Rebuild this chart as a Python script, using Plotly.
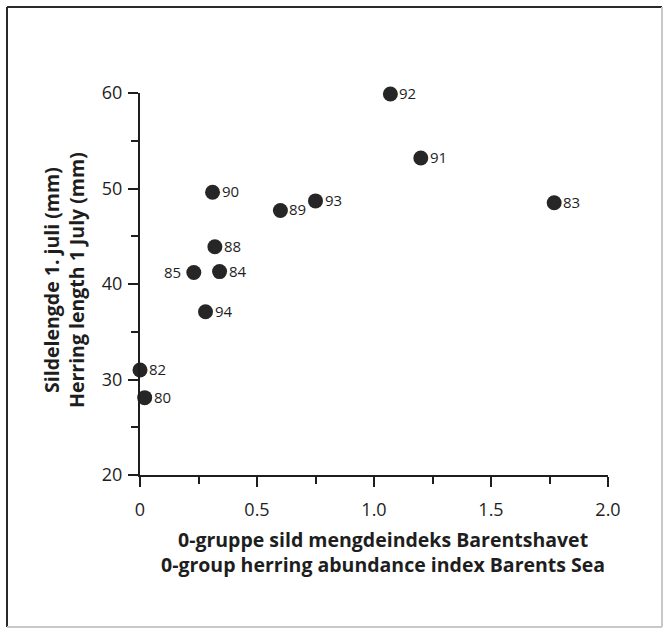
import plotly.graph_objects as go

years = ["92", "91", "83", "93", "89", "90", "88", "85", "84", "94", "82", "80"]
abundance = [1.07, 1.20, 1.77, 0.75, 0.60, 0.31, 0.32, 0.23, 0.34, 0.28, 0.00, 0.02]
length_mm = [59.9, 53.2, 48.5, 48.7, 47.7, 49.6, 43.9, 41.2, 41.3, 37.1, 31.0, 28.1]
label_left = [False] * 7 + [True] + [False] * 4

x_title = ["0-gruppe sild mengdeindeks Barentshavet",
           "0-group herring abundance index Barents Sea"]
y_title = ["Sildelengde 1. juli (mm)", "Herring length 1 July (mm)"]

FONT = "Open Sans"
INK = "#1e1e1e"

# plot area in pixels
W, H = 665, 628
L, R, T, B = 140, 57, 93, 153
PW, PH = W - L - R, H - T - B


def px(x):
    return (x - L) / PW


def py(y):
    return (H - B - y) / PH


fig = go.Figure()
fig.add_trace(go.Scatter(
    x=abundance, y=length_mm, mode="markers",
    marker=dict(size=15, color="#262626", line=dict(width=0)),
    cliponaxis=False, showlegend=False, hoverinfo="skip",
))

for xv, yv, t, left in zip(abundance, length_mm, years, label_left):
    fig.add_annotation(
        x=xv, y=yv, text=t, showarrow=False,
        xanchor="right" if left else "left", yanchor="middle",
        xshift=-11 if left else 7, yshift=1,
        font=dict(family=FONT, size=15, color=INK),
    )

axis_common = dict(
    showgrid=False, zeroline=False, showline=True, linecolor=INK, linewidth=2,
    ticks="outside", tickcolor=INK, tickwidth=2, ticklen=10,
    tickfont=dict(family=FONT, size=18, color=INK),
)

fig.update_xaxes(
    range=[0, 2.0], tickvals=[0, 0.5, 1.0, 1.5, 2.0],
    ticktext=["0", "0.5", "1.0", "1.5", "2.0"],
    minor=dict(tickvals=[0.25, 0.75, 1.25, 1.75], ticks="outside", ticklen=7,
               tickcolor=INK, tickwidth=2),
    ticklabelstandoff=7,
    **axis_common,
)
fig.update_yaxes(
    range=[20, 60], tickvals=[20, 30, 40, 50, 60],
    minor=dict(tickvals=[25, 35, 45, 55], ticks="outside", ticklen=7,
               tickcolor=INK, tickwidth=2),
    ticklabelstandoff=2,
    **axis_common,
)

# axis titles (two lines each)
fig.add_annotation(x=px(383), y=py(552), xref="paper", yref="paper",
                   text="<b>" + "<br>".join(x_title) + "</b>", showarrow=False,
                   xanchor="center", yanchor="middle", align="center",
                   font=dict(family=FONT, size=19.5, color=INK))
fig.add_annotation(x=px(64), y=py(280), xref="paper", yref="paper",
                   text="<b>" + "<br>".join(y_title) + "</b>", showarrow=False,
                   textangle=-90, xanchor="center", yanchor="middle", align="center",
                   font=dict(family=FONT, size=19.5, color=INK))

# scanned frame: dark top/left, faint right/bottom
fx0, fx1, fy0, fy1 = px(7), px(662), py(627), py(7)
fig.add_shape(type="line", xref="paper", yref="paper", x0=fx0, x1=fx1, y0=fy1, y1=fy1,
              line=dict(color="#2a2a2a", width=2))
fig.add_shape(type="line", xref="paper", yref="paper", x0=fx0, x1=fx0, y0=fy0, y1=fy1,
              line=dict(color="#2a2a2a", width=2))
fig.add_shape(type="line", xref="paper", yref="paper", x0=fx1, x1=fx1, y0=fy0, y1=fy1,
              line=dict(color="#c8c8c8", width=2))
fig.add_shape(type="line", xref="paper", yref="paper", x0=fx0, x1=fx1, y0=fy0, y1=fy0,
              line=dict(color="#c8c8c8", width=2))

fig.update_layout(
    width=W, height=H,
    margin=dict(l=L, r=R, t=T, b=B),
    paper_bgcolor="white", plot_bgcolor="white",
)

fig.write_html("out.html")
